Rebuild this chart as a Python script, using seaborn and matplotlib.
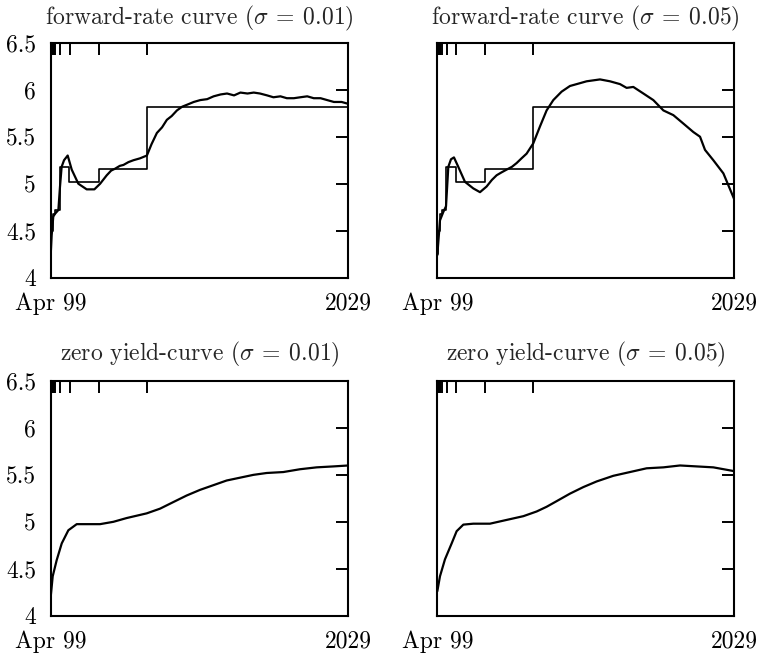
import matplotlib.pyplot as plt
import pandas as pd
import seaborn as sns

# x values are years after Apr 1999, rates in percent
step_years = [0, 1 / 12, 0.25, 0.5, 0.95, 1.95, 5, 10, 31]
step_rates = [4.25, 4.5, 4.68, 4.72, 5.18, 5.02, 5.16, 5.82, 5.82]

fwd01_years = [0, 0.1, 0.27, 0.45, 0.8, 0.97, 1.14, 1.39, 1.77, 2.19, 2.88, 3.75, 4.55,
               5.15, 5.84, 6.3, 6.71, 7.2, 7.58, 8.1, 8.62, 9.3, 10.02, 10.5, 11.06, 11.6,
               12.1, 12.6, 13.15, 13.7, 14.19, 14.9, 15.58, 16.3, 16.97, 17.7, 18.37, 19.1,
               19.76, 20.5, 21.15, 21.8, 22.54, 23.2, 23.93, 24.6, 25.33, 26.0, 26.72, 27.4,
               28.11, 28.8, 29.5, 30.3, 31.0]
fwd01_rates = [4.24, 4.45, 4.65, 4.68, 4.72, 4.97, 5.18, 5.25, 5.30, 5.15, 5.00, 4.94, 4.94,
               5.00, 5.09, 5.14, 5.16, 5.19, 5.20, 5.23, 5.25, 5.27, 5.30, 5.42, 5.54, 5.60,
               5.68, 5.72, 5.78, 5.82, 5.84, 5.87, 5.89, 5.90, 5.93, 5.95, 5.96, 5.94, 5.97,
               5.96, 5.97, 5.96, 5.94, 5.92, 5.93, 5.91, 5.91, 5.92, 5.93, 5.91, 5.91, 5.89,
               5.87, 5.87, 5.85]

fwd05_years = [0, 0.28, 0.63, 0.91, 1.15, 1.43, 1.74, 2.19, 2.89, 3.76, 4.46, 5.15, 5.7, 6.2,
               6.7, 7.24, 7.8, 8.29, 8.8, 9.33, 10.03, 10.73, 11.42, 12.12, 12.99, 13.86,
               14.91, 15.6, 16.3, 17.0, 18.04, 19.09, 19.78, 20.48, 21.53, 22.57, 23.62,
               24.66, 25.71, 26.75, 27.45, 27.97, 28.84, 29.89, 31.0]
fwd05_rates = [4.24, 4.61, 4.70, 4.76, 5.18, 5.26, 5.28, 5.18, 5.02, 4.95, 4.91, 4.97, 5.04,
               5.09, 5.12, 5.15, 5.18, 5.22, 5.27, 5.32, 5.43, 5.61, 5.78, 5.89, 5.98, 6.04,
               6.07, 6.09, 6.10, 6.11, 6.09, 6.06, 6.02, 6.03, 5.96, 5.89, 5.78, 5.73, 5.64,
               5.55, 5.50, 5.36, 5.25, 5.11, 4.84]

zero01_years = [0, 0.21, 0.62, 1.15, 1.84, 2.71, 3.75, 5.14, 6.53, 7.91, 10.0, 11.39, 12.77,
                14.16, 15.55, 16.94, 18.33, 19.72, 21.11, 22.5, 24.23, 25.97, 27.7, 29.44, 31.0]
zero01_rates = [4.20, 4.42, 4.59, 4.77, 4.91, 4.975, 4.975, 4.975, 5.00, 5.04, 5.09, 5.14,
                5.21, 5.28, 5.34, 5.39, 5.44, 5.47, 5.50, 5.52, 5.53, 5.56, 5.58, 5.59, 5.60]

zero05_years = [0, 0.28, 0.8, 1.5, 2.02, 2.72, 3.76, 5.5, 7.24, 8.99, 10.38, 11.42, 12.47,
                13.86, 15.26, 16.65, 18.39, 20.13, 21.87, 23.62, 25.36, 27.1, 28.84, 31.0]
zero05_rates = [4.26, 4.42, 4.60, 4.77, 4.90, 4.97, 4.98, 4.98, 5.02, 5.06, 5.11, 5.16, 5.22,
                5.30, 5.37, 5.43, 5.49, 5.53, 5.57, 5.58, 5.60, 5.59, 5.58, 5.54]

titles = [r"forward-rate curve $(\sigma\:=\:0.01)$", r"forward-rate curve $(\sigma\:=\:0.05)$",
          r"zero yield-curve $(\sigma\:=\:0.01)$", r"zero yield-curve $(\sigma\:=\:0.05)$"]
y_ticks = [4, 4.5, 5, 5.5, 6, 6.5]
y_tick_labels = ["4", "4.5", "5", "5.5", "6", "6.5"]
x_labels = ["Apr 99", "2029"]
minor_years = [1 / 52, 1 / 12, 2 / 12, 3 / 12, 4 / 12, 6 / 12, 1, 2, 5, 10]

sns.set_theme(style="white")
plt.rcParams["font.family"] = "cmr10"
plt.rcParams["mathtext.fontset"] = "cm"
plt.rcParams["axes.formatter.use_mathtext"] = True

fig = plt.figure(figsize=(7.6, 6.58), dpi=100)
boxes = [[0.0667, 0.578, 0.3916, 0.357], [0.5754, 0.578, 0.3904, 0.357],
         [0.0667, 0.0643, 0.3916, 0.3567], [0.5754, 0.0643, 0.3904, 0.3567]]
curves = [(fwd01_years, fwd01_rates), (fwd05_years, fwd05_rates),
          (zero01_years, zero01_rates), (zero05_years, zero05_rates)]

for i in range(4):
    ax = fig.add_axes(boxes[i])
    df = pd.DataFrame({"t": curves[i][0], "r": curves[i][1]})
    sns.lineplot(data=df, x="t", y="r", ax=ax, color="black", lw=1.6, estimator=None)
    if i < 2:
        steps = pd.DataFrame({"t": step_years, "r": step_rates})
        sns.lineplot(data=steps, x="t", y="r", ax=ax, color="black", lw=1.2,
                     estimator=None, drawstyle="steps-post")

    ax.set_xlim(0, 31)
    ax.set_ylim(4, 6.5)
    ax.set_xticks([0, 31])
    ax.set_xticklabels(x_labels)
    ax.set_xticks(minor_years, minor=True)
    ax.set_yticks(y_ticks)
    if i % 2 == 0:
        ax.set_yticklabels(y_tick_labels)
    else:
        ax.set_yticklabels([])
    ax.set_xlabel("")
    ax.set_ylabel("")
    ax.tick_params(which="both", direction="in", top=True, right=True,
                   length=8.5, width=1.4, color="black", labelsize=17, labelcolor="black")
    ax.tick_params(axis="y", pad=10.5)
    ax.tick_params(axis="x", pad=10.5)
    for s in ax.spines.values():
        s.set_color("black")
        s.set_linewidth(1.5)
    ax.set_title(titles[i], fontsize=17, pad=13 if i < 2 else 15)

fig.savefig("out.png", dpi=100)
